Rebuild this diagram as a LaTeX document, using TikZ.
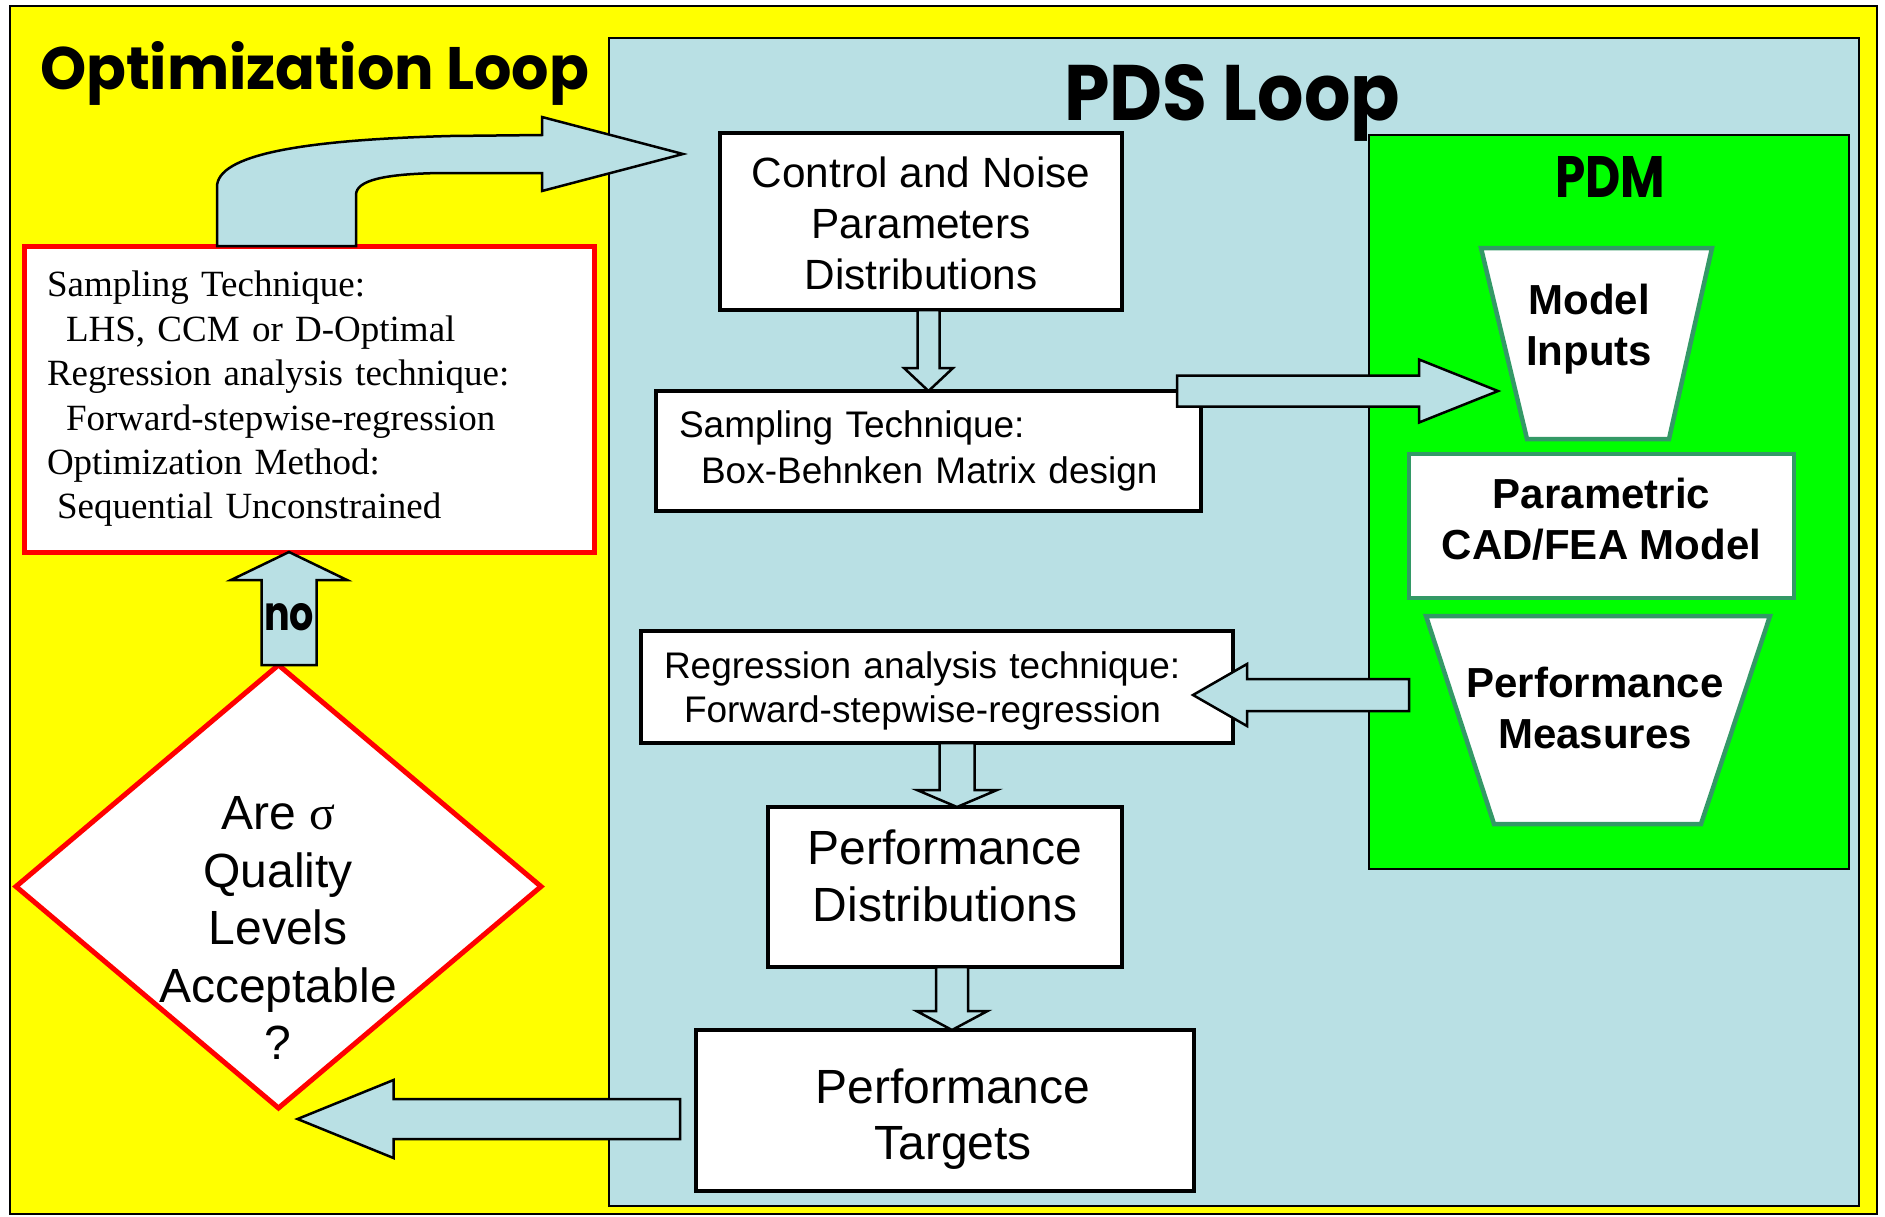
\documentclass[tikz,border=0pt]{standalone}
\usepackage{fontspec}
\usepackage{graphicx}
\setmainfont{Liberation Sans}
\newfontfamily\seriffont{Liberation Serif}
\newfontfamily\comicfont{Poppins}
\usetikzlibrary{calc,shapes.geometric}
\definecolor{lblue}{RGB}{185,224,228}
\definecolor{pdmgreen}{RGB}{0,255,0}
\definecolor{edgegreen}{RGB}{51,153,102}
\definecolor{ylw}{RGB}{255,255,0}
\definecolor{redc}{RGB}{255,0,0}
\newcommand\setfs[2]{\fontsize{#1pt}{#2pt}\selectfont}
% block arrows: #1 start anchor, #2 tip, #3 half shaft, #4 half head, #5 head length
\newcommand\downblock[5]{\draw[barrow] let \p1=#1, \p2=#2 in
  ({\x2-#3pt},\y1) -- ({\x2-#3pt},{\y2+#5pt}) -- ({\x2-#4pt},{\y2+#5pt}) -- (\x2,\y2)
  -- ({\x2+#4pt},{\y2+#5pt}) -- ({\x2+#3pt},{\y2+#5pt}) -- ({\x2+#3pt},\y1) -- cycle;}
\newcommand\upblock[5]{\draw[barrow] let \p1=#1, \p2=#2 in
  ({\x2-#3pt},\y1) -- ({\x2-#3pt},{\y2-#5pt}) -- ({\x2-#4pt},{\y2-#5pt}) -- (\x2,\y2)
  -- ({\x2+#4pt},{\y2-#5pt}) -- ({\x2+#3pt},{\y2-#5pt}) -- ({\x2+#3pt},\y1) -- cycle;}
\newcommand\rightblock[5]{\draw[barrow] let \p1=#1, \p2=#2 in
  (\x1,{\y2+#3pt}) -- ({\x2-#5pt},{\y2+#3pt}) -- ({\x2-#5pt},{\y2+#4pt}) -- (\x2,\y2)
  -- ({\x2-#5pt},{\y2-#4pt}) -- ({\x2-#5pt},{\y2-#3pt}) -- (\x1,{\y2-#3pt}) -- cycle;}
\newcommand\leftblock[5]{\draw[barrow] let \p1=#1, \p2=#2 in
  (\x1,{\y2+#3pt}) -- ({\x2+#5pt},{\y2+#3pt}) -- ({\x2+#5pt},{\y2+#4pt}) -- (\x2,\y2)
  -- ({\x2+#5pt},{\y2-#4pt}) -- ({\x2+#5pt},{\y2-#3pt}) -- (\x1,{\y2-#3pt}) -- cycle;}
\begin{document}
\begin{tikzpicture}[x=1pt,y=-1pt,
  panel/.style={draw=black,line width=2.5pt,inner sep=0pt,outer sep=0pt},
  bbox/.style={draw=black,line width=4.5pt,fill=white,inner sep=0pt,outer sep=0pt,align=center},
  lbox/.style={draw=black,line width=4.5pt,fill=white,inner ysep=0pt,outer sep=0pt,align=left},
  gbox/.style={draw=edgegreen,line width=4.5pt,fill=white,inner sep=0pt,outer sep=0pt,align=center},
  gshape/.style={draw=edgegreen,line width=4.5pt,fill=white,line join=miter},
  barrow/.style={draw=black,line width=2.5pt,fill=lblue,line join=miter},
  txt/.style={inner sep=0pt,outer sep=0pt,align=center},
  ttl/.style={anchor=base west,inner sep=0pt,outer sep=0pt},
]
\useasboundingbox (0,0) rectangle (1885,1216);
\fill[white] (0,0) rectangle (1885,1216);
% panels
\node[panel,fill=ylw,minimum width=1867,minimum height=1208] (outer) at (943.5,610) {};
\node[panel,fill=lblue,minimum width=1250,minimum height=1168] (pds) at (1234,622) {};
\node[panel,fill=pdmgreen,minimum width=480,minimum height=734] (pdm) at (1609,502) {};
% titles
\node[ttl] (optt) at (40,89) {\resizebox{549pt}{48pt}{\comicfont\bfseries Optimization Loop}};
\node[ttl] (pdst) at (1064,120) {\resizebox{336pt}{56pt}{\comicfont\bfseries PDS Loop}};
\node[ttl] (pdmt) at (1555,197) {\resizebox{110pt}{41pt}{\comicfont\bfseries PDM}};
% PDS boxes
\node[bbox,font=\setfs{42.3}{51},minimum width=402,minimum height=177] (ctrl) at (921,221.5)
  {\rule{0pt}{34pt}Control and Noise\\Parameters\\Distributions};
\node[lbox,font=\setfs{37}{46},text width=499pt,inner xsep=23pt,minimum width=545,minimum height=120] (samp) at (928.5,451)
  {Sampling Technique:\\\hspace*{22pt}Box-Behnken Matrix design};
\node[lbox,font=\setfs{37}{44},text width=546pt,inner xsep=23pt,minimum width=592,minimum height=112] (reg) at (937,687)
  {\rule{0pt}{35pt}Regression analysis technique:\\\hspace*{20pt}Forward-stepwise-regression};
\node[bbox,font=\setfs{48}{57},minimum width=354,minimum height=160] (pdist) at (945,887)
  {Performance\\Distributions\rule[-22pt]{0pt}{0pt}};
\node[bbox,font=\setfs{48}{56},minimum width=498,minimum height=161] (tgt) at (945,1110.5)
  {\hspace*{16pt}\rule{0pt}{52pt}Performance\\\hspace*{16pt}Targets};
% optimization box
\node[lbox,draw=redc,line width=5pt,font=\seriffont\setfs{37}{44.4},text width=524pt,inner xsep=23pt,minimum width=570,minimum height=306] (opt) at (309,399)
  {Sampling Technique:\\\hspace*{19pt}LHS, CCM or D-Optimal\\Regression analysis technique:\\\hspace*{19pt}Forward-stepwise-regression\\Optimization Method:\\\hspace*{10pt}Sequential Unconstrained};
% PDM contents
\draw[gshape] (1481,248) -- (1712,248) -- (1669,439) -- (1527,439) -- cycle;
\node[txt,font=\bfseries\setfs{42}{51}] (mi) at (1589,329) {Model\\Inputs};
\node[gbox,font=\bfseries\setfs{42}{51},minimum width=385,minimum height=144] (cad) at (1601.5,526)
  {Parametric\\CAD/FEA Model\rule[-15pt]{0pt}{0pt}};
\draw[gshape] (1426,616) -- (1770,616) -- (1701,824) -- (1494,824) -- cycle;
\node[txt,font=\bfseries\setfs{42}{51}] (pm) at (1595,708) {Performance\\Measures};
% decision
\node[diamond,draw=redc,line width=5pt,fill=white,minimum width=525,minimum height=443,inner sep=0pt,outer sep=0pt] (dec) at (278.5,886.5) {};
\node[txt,font=\setfs{48}{57.5}] (dect) at (278,928) {Are {\seriffont σ}\\Quality\\Levels\\Acceptable\\?};
% arrows
\draw[barrow] let \p1=(opt.north) in (217,\y1) -- (217,187) .. controls (217,155) and (300,140) .. (450,136)
  -- (542,135) -- (542,117) -- (683,154) -- (542,191) -- (542,173) -- (440,173)
  .. controls (385,174) and (356,180) .. (356,195) -- (356,\y1) -- cycle;
\downblock{(ctrl.south)}{(samp.north)}{11}{24.5}{23}
\downblock{(reg.south)}{($(pdist.north)+(12,0)$)}{17.5}{40}{17}
\downblock{(pdist.south)}{($(tgt.north)+(7,0)$)}{16}{35.5}{19}
\upblock{(dec.north)}{($(opt.south)+(-20,0)$)}{27.5}{58}{28}
\coordinate (miin) at (1498,391);
\rightblock{($(samp.north east)+(-24,0)$)}{(miin)}{15.5}{31.5}{79}
\leftblock{(cad.west)}{($(reg.east)+(-40,8)$)}{16}{31}{54}
\leftblock{($(tgt.west)+(-16,0)$)}{($(dec.south)+(19,11)$)}{20}{39}{96}
\node[ttl] (nolbl) at (264,630) {\resizebox{50pt}{27pt}{\comicfont\bfseries no}};
\end{tikzpicture}
\end{document}
